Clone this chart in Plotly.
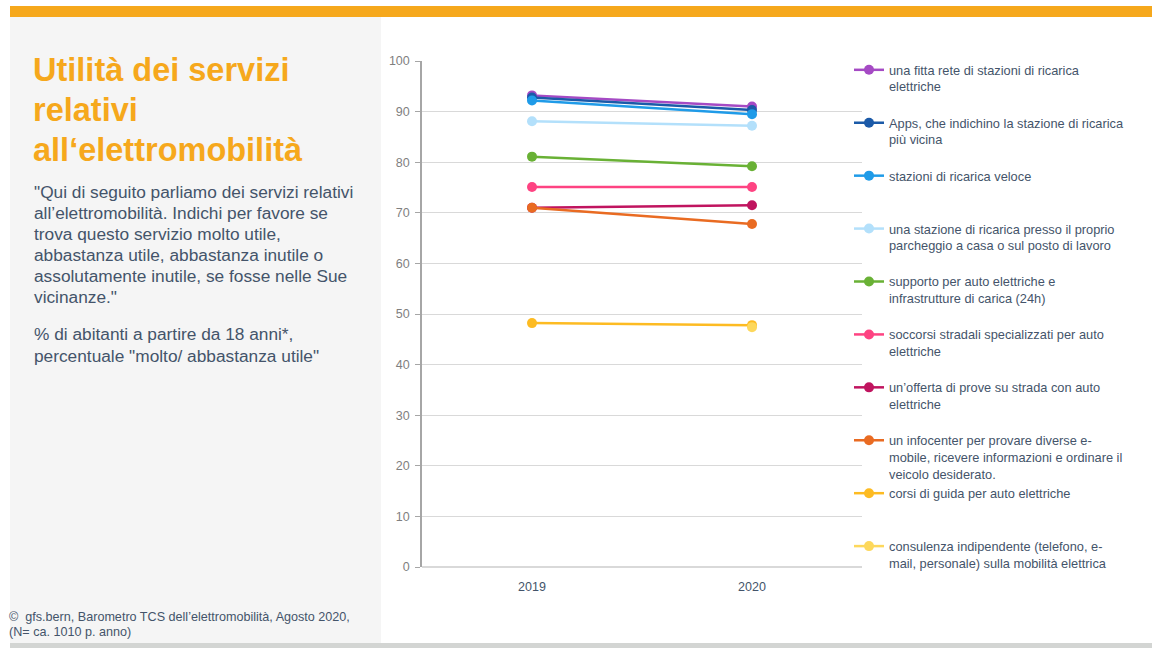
import plotly.graph_objects as go

years = ["2019", "2020"]
series_names = [
    "una fitta rete di stazioni di ricarica<br>elettriche",
    "Apps, che indichino la stazione di ricarica<br>più vicina",
    "stazioni di ricarica veloce",
    "una stazione di ricarica presso il proprio<br>parcheggio a casa o sul posto di lavoro",
    "supporto per auto elettriche e<br>infrastrutture di carica (24h)",
    "soccorsi stradali specializzati per auto<br>elettriche",
    "un’offerta di prove su strada con auto<br>elettriche",
    "un infocenter per provare diverse e-<br>mobile, ricevere informazioni e ordinare il<br>veicolo desiderato.",
    "corsi di guida per auto elettriche",
    "consulenza indipendente (telefono, e-<br>mail, personale) sulla mobilità elettrica",
]
rete = [93.2, 91.0]
apps = [92.8, 90.3]
veloce = [92.2, 89.5]
parcheggio = [88.1, 87.2]
supporto = [81.1, 79.2]
soccorsi = [75.1, 75.1]
prove = [71.0, 71.5]
infocenter = [71.0, 67.8]
corsi = [48.2, 47.8]
consulenza = [None, 47.4]
series_values = [rete, apps, veloce, parcheggio, supporto, soccorsi, prove, infocenter, corsi, consulenza]
colors = ["#a54ac4", "#1b5aa8", "#1f9be8", "#b3e0fb", "#69b135", "#fe4382",
          "#c0145f", "#e96b22", "#fdbb22", "#fdd85c"]
y_ticks = [0, 10, 20, 30, 40, 50, 60, 70, 80, 90, 100]

title_lines = ["Utilità dei servizi", "relativi", "all‘elettromobilità"]
body_lines = [
    "\"Qui di seguito parliamo dei servizi relativi",
    "all’elettromobilità. Indichi per favore se",
    "trova questo servizio molto utile,",
    "abbastanza utile, abbastanza inutile o",
    "assolutamente inutile, se fosse nelle Sue",
    "vicinanze.\"",
]
note_lines = ["% di abitanti a partire da 18 anni*,", "percentuale \"molto/ abbastanza utile\""]
source_lines = ["©  gfs.bern, Barometro TCS dell’elettromobilità, Agosto 2020,", "(N= ca. 1010 p. anno)"]

W, H = 1152, 648
L, R, T, B = 422, 862, 61, 567
FONT = "Liberation Sans, Arial, sans-serif"
TEXT_COLOR = "#44546a"


def px(x):
    return (x - L) / (R - L)


def py(y):
    return (B - y) / (B - T)


fig = go.Figure()
for name, vals, col in zip(series_names, series_values, colors):
    n_lines = name.count("<br>") + 1
    label = name + "<br> " * (3 - n_lines)
    fig.add_trace(go.Scatter(
        x=years, y=vals, name=label, mode="lines+markers",
        line=dict(color=col, width=2.5),
        marker=dict(color=col, size=10),
        connectgaps=False,
    ))

shapes = [
    dict(type="rect", xref="paper", yref="paper", x0=px(10), x1=px(381), y0=py(643), y1=py(17),
         fillcolor="#f5f5f5", line=dict(width=0), layer="below"),
    dict(type="rect", xref="paper", yref="paper", x0=px(10), x1=px(1152), y0=py(17), y1=py(6),
         fillcolor="#f6a81c", line=dict(width=0), layer="below"),
    dict(type="rect", xref="paper", yref="paper", x0=px(10), x1=px(1152), y0=py(648), y1=py(643),
         fillcolor="#d3d5d3", line=dict(width=0), layer="below"),
]


def text_ann(text, x, yc, size, color, bold=False):
    return dict(text=text, x=px(x), y=py(yc), xref="paper", yref="paper",
                xanchor="left", yanchor="middle", align="left", showarrow=False,
                font=dict(family=FONT, size=size, color=color, weight="bold" if bold else "normal"))


annotations = []
for i, t in enumerate(title_lines):
    annotations.append(text_ann(t, 31, 70 + 40 * i, 32.5, "#f6a81c", bold=True))
for i, t in enumerate(body_lines):
    annotations.append(text_ann(t, 32, 192 + 21 * i, 17.3, TEXT_COLOR))
for i, t in enumerate(note_lines):
    annotations.append(text_ann(t, 32, 334 + 22 * i, 17.3, TEXT_COLOR))
for i, t in enumerate(source_lines):
    annotations.append(text_ann(t, 7, 617 + 15 * i, 12.6, TEXT_COLOR))

fig.update_layout(
    width=W, height=H, autosize=False,
    margin=dict(l=L, r=W - R, t=T, b=H - B, pad=0, autoexpand=False),
    paper_bgcolor="white", plot_bgcolor="white",
    font=dict(family=FONT, color=TEXT_COLOR),
    showlegend=True,
    legend=dict(xref="container", yref="container", x=849 / W, y=1 - 55 / H,
                xanchor="left", yanchor="top", valign="top", maxheight=620,
                font=dict(family=FONT, size=12.8, color=TEXT_COLOR),
                bgcolor="rgba(0,0,0,0)", tracegroupgap=0, itemclick=False, itemdoubleclick=False),
    xaxis=dict(type="category", range=[-0.5, 1.5], showgrid=False, showline=False,
               ticks="", ticklabelstandoff=10,
               tickfont=dict(family=FONT, size=12.5, color=TEXT_COLOR)),
    yaxis=dict(range=[0, 100], tickvals=y_ticks, showgrid=True, gridcolor="#d9d9d9", gridwidth=1,
               showline=True, linecolor="#a6a6a6", linewidth=1.5, ticks="outside", ticklen=5,
               tickcolor="#a6a6a6", zeroline=True, zerolinecolor="#d9d9d9", zerolinewidth=1.5,
               ticklabelstandoff=3,
               tickfont=dict(family=FONT, size=12.5, color="#7f7f7f")),
    shapes=shapes, annotations=annotations,
)

fig.write_html("out.html", config={"responsive": False, "displayModeBar": False},
               post_script="document.body.style.margin='0';document.body.style.overflow='hidden';")
